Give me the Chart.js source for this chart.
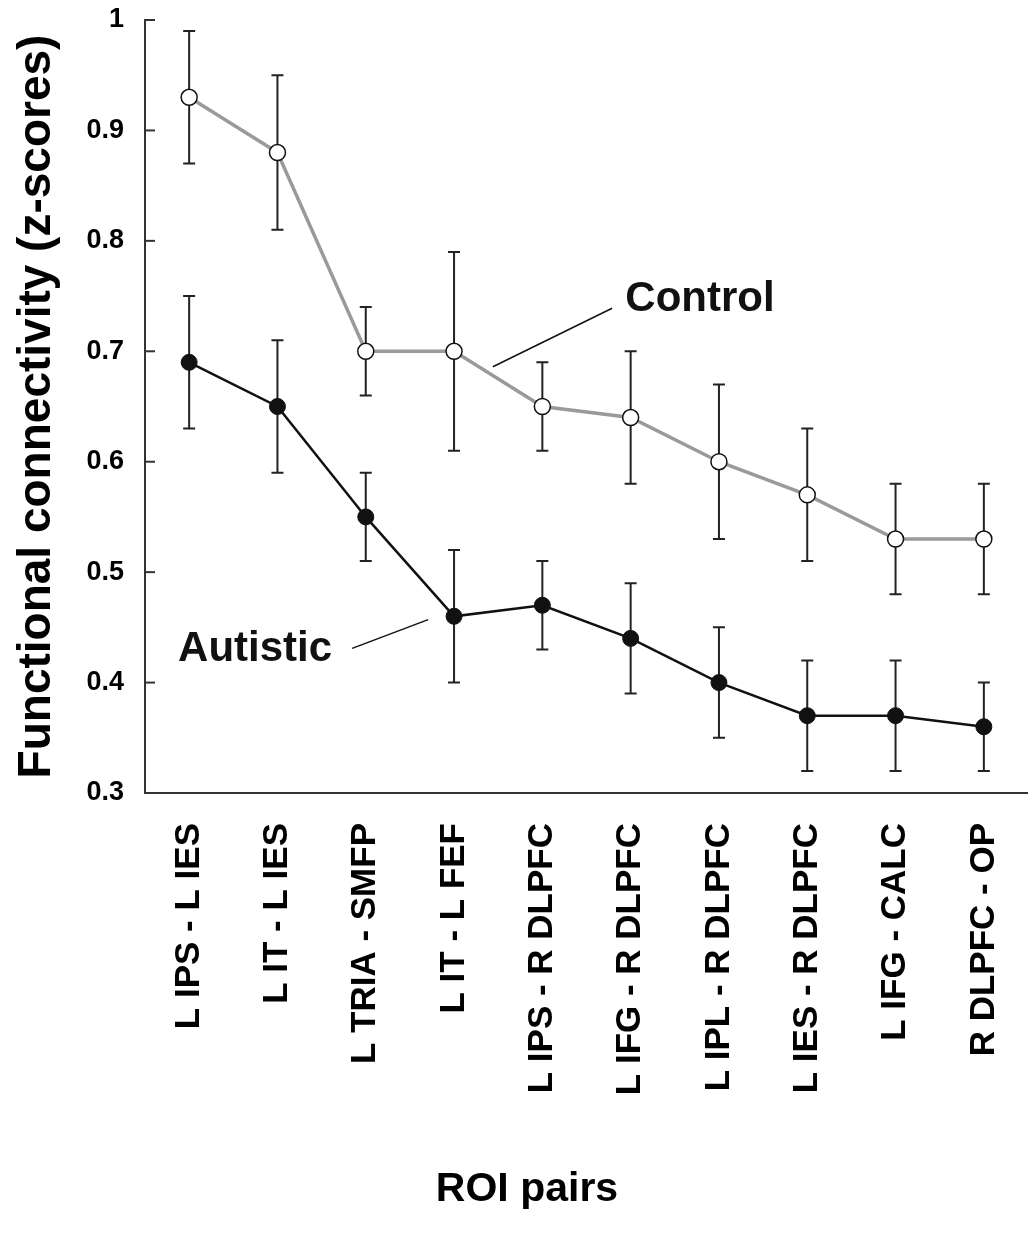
<!DOCTYPE html>
<html>
<head>
<meta charset="utf-8">
<script src="https://cdn.jsdelivr.net/npm/chart.js@4.4.1/dist/chart.umd.min.js"></script>
<style>
  html, body { margin: 0; padding: 0; background: #fff; }
  canvas { display: block; }
</style>
</head>
<body>
<canvas id="myChart" width="1028" height="1238"></canvas>
<script>
'use strict';

// data
const roiPairs = ['L IPS - L IES', 'L IT - L IES', 'L TRIA - SMFP', 'L IT - L FEF', 'L IPS - R DLPFC',
  'L IFG - R DLPFC', 'L IPL - R DLPFC', 'L IES - R DLPFC', 'L IFG - CALC', 'R DLPFC - OP'];

const controlMean = [0.93, 0.88, 0.70, 0.70, 0.65, 0.64, 0.60, 0.57, 0.53, 0.53];
const controlHigh = [0.99, 0.95, 0.74, 0.79, 0.69, 0.70, 0.67, 0.63, 0.58, 0.58];
const controlLow = [0.87, 0.81, 0.66, 0.61, 0.61, 0.58, 0.53, 0.51, 0.48, 0.48];

const autisticMean = [0.69, 0.65, 0.55, 0.46, 0.47, 0.44, 0.40, 0.37, 0.37, 0.36];
const autisticHigh = [0.75, 0.71, 0.59, 0.52, 0.51, 0.49, 0.45, 0.42, 0.42, 0.40];
const autisticLow = [0.63, 0.59, 0.51, 0.40, 0.43, 0.39, 0.35, 0.32, 0.32, 0.32];

const yTicks = [0.3, 0.4, 0.5, 0.6, 0.7, 0.8, 0.9, 1];

const xTitle = 'ROI pairs';

const fontFamily = '"Liberation Sans", Arial, sans-serif';

// group labels with their pointer lines, in data units (category index, z-score)
const groupLabels = [
  { text: 'Control', x: 4.94, y: 0.747, line: [3.44, 0.686, 4.79, 0.739] },
  { text: 'Autistic', x: -0.125, y: 0.43, line: [1.846, 0.431, 2.707, 0.457] }
];

const errorBars = {
  id: 'errorBars',
  beforeDatasetsDraw(chart) {
    const ctx = chart.ctx;
    const x = chart.scales.x;
    const y = chart.scales.y;
    const sets = [[controlLow, controlHigh], [autisticLow, autisticHigh]];
    ctx.save();
    ctx.strokeStyle = '#222';
    ctx.lineWidth = 2;
    for (let s = 0; s < sets.length; s++) {
      for (let i = 0; i < roiPairs.length; i++) {
        const px = x.getPixelForValue(i);
        const top = y.getPixelForValue(sets[s][1][i]);
        const bot = y.getPixelForValue(sets[s][0][i]);
        ctx.beginPath();
        ctx.moveTo(px, top); ctx.lineTo(px, bot);
        ctx.moveTo(px - 6, top); ctx.lineTo(px + 6, top);
        ctx.moveTo(px - 6, bot); ctx.lineTo(px + 6, bot);
        ctx.stroke();
      }
    }
    ctx.restore();
  }
};

const extras = {
  id: 'extras',
  afterDraw(chart) {
    const ctx = chart.ctx;
    const x = chart.scales.x;
    const y = chart.scales.y;
    ctx.save();
    // inward tick marks on the y axis
    ctx.strokeStyle = '#333';
    ctx.lineWidth = 2;
    y.ticks.forEach(t => {
      const py = y.getPixelForValue(t.value);
      ctx.beginPath();
      ctx.moveTo(x.left, py);
      ctx.lineTo(x.left + 10, py);
      ctx.stroke();
    });
    // group labels
    ctx.fillStyle = '#111';
    ctx.font = 'bold 42px ' + fontFamily;
    ctx.textBaseline = 'middle';
    ctx.textAlign = 'left';
    ctx.lineWidth = 1.5;
    ctx.strokeStyle = '#111';
    groupLabels.forEach(g => {
      ctx.fillText(g.text, x.getPixelForValue(g.x), y.getPixelForValue(g.y));
      ctx.beginPath();
      ctx.moveTo(x.getPixelForValue(g.line[0]), y.getPixelForValue(g.line[1]));
      ctx.lineTo(x.getPixelForValue(g.line[2]), y.getPixelForValue(g.line[3]));
      ctx.stroke();
    });
    // x title, centred under the whole figure like the original
    ctx.fillStyle = '#000';
    ctx.font = 'bold 41px ' + fontFamily;
    ctx.textAlign = 'center';
    ctx.fillText(xTitle, chart.width / 2 + 13, 1190);
    ctx.restore();
  }
};

const ctx = document.getElementById('myChart').getContext('2d');
const myChart = new Chart(ctx, {
  type: 'line',
  data: {
    labels: roiPairs,
    datasets: [
      {
        label: 'Control',
        data: controlMean,
        borderColor: '#9a9a9a',
        borderWidth: 3.5,
        pointRadius: 8,
        pointBackgroundColor: '#fff',
        pointBorderColor: '#111',
        pointBorderWidth: 1.5,
        tension: 0
      },
      {
        label: 'Autistic',
        data: autisticMean,
        borderColor: '#111',
        borderWidth: 2.5,
        pointRadius: 8,
        pointBackgroundColor: '#111',
        pointBorderColor: '#111',
        pointBorderWidth: 1,
        tension: 0
      }
    ]
  },
  options: {
    responsive: false,
    animation: false,
    layout: { autoPadding: false, padding: { top: 20, right: 0, left: 0, bottom: 0 } },
    plugins: {
      legend: { display: false },
      tooltip: { enabled: false }
    },
    scales: {
      x: {
        offset: true,
        afterFit: s => { s.height = 445; s.paddingLeft = 0; s.paddingRight = 0; },
        grid: { display: false, drawTicks: false },
        border: { display: true, color: '#333', width: 2 },
        ticks: {
          autoSkip: false,
          minRotation: 90,
          maxRotation: 90,
          padding: 30,
          color: '#000',
          font: { family: fontFamily, size: 35, weight: 'bold' }
        }
      },
      y: {
        min: 0.3,
        max: 1,
        afterFit: s => { s.width = 145; s.paddingTop = 0; s.paddingBottom = 0; },
        afterBuildTicks: s => { s.ticks = yTicks.map(v => ({ value: v })); },
        grid: { display: false, drawTicks: false },
        border: { display: true, color: '#333', width: 2 },
        ticks: {
          padding: 21,
          color: '#000',
          font: { family: fontFamily, size: 27, weight: 'bold' },
          callback: v => (v === 1 ? '1' : v.toFixed(1))
        },
        title: {
          display: true,
          text: 'Functional connectivity (z-scores)',
          color: '#000',
          padding: { top: 10, bottom: 0 },
          font: { family: fontFamily, size: 46, weight: 'bold' }
        }
      }
    }
  },
  plugins: [errorBars, extras]
});
</script>
</body>
</html>
